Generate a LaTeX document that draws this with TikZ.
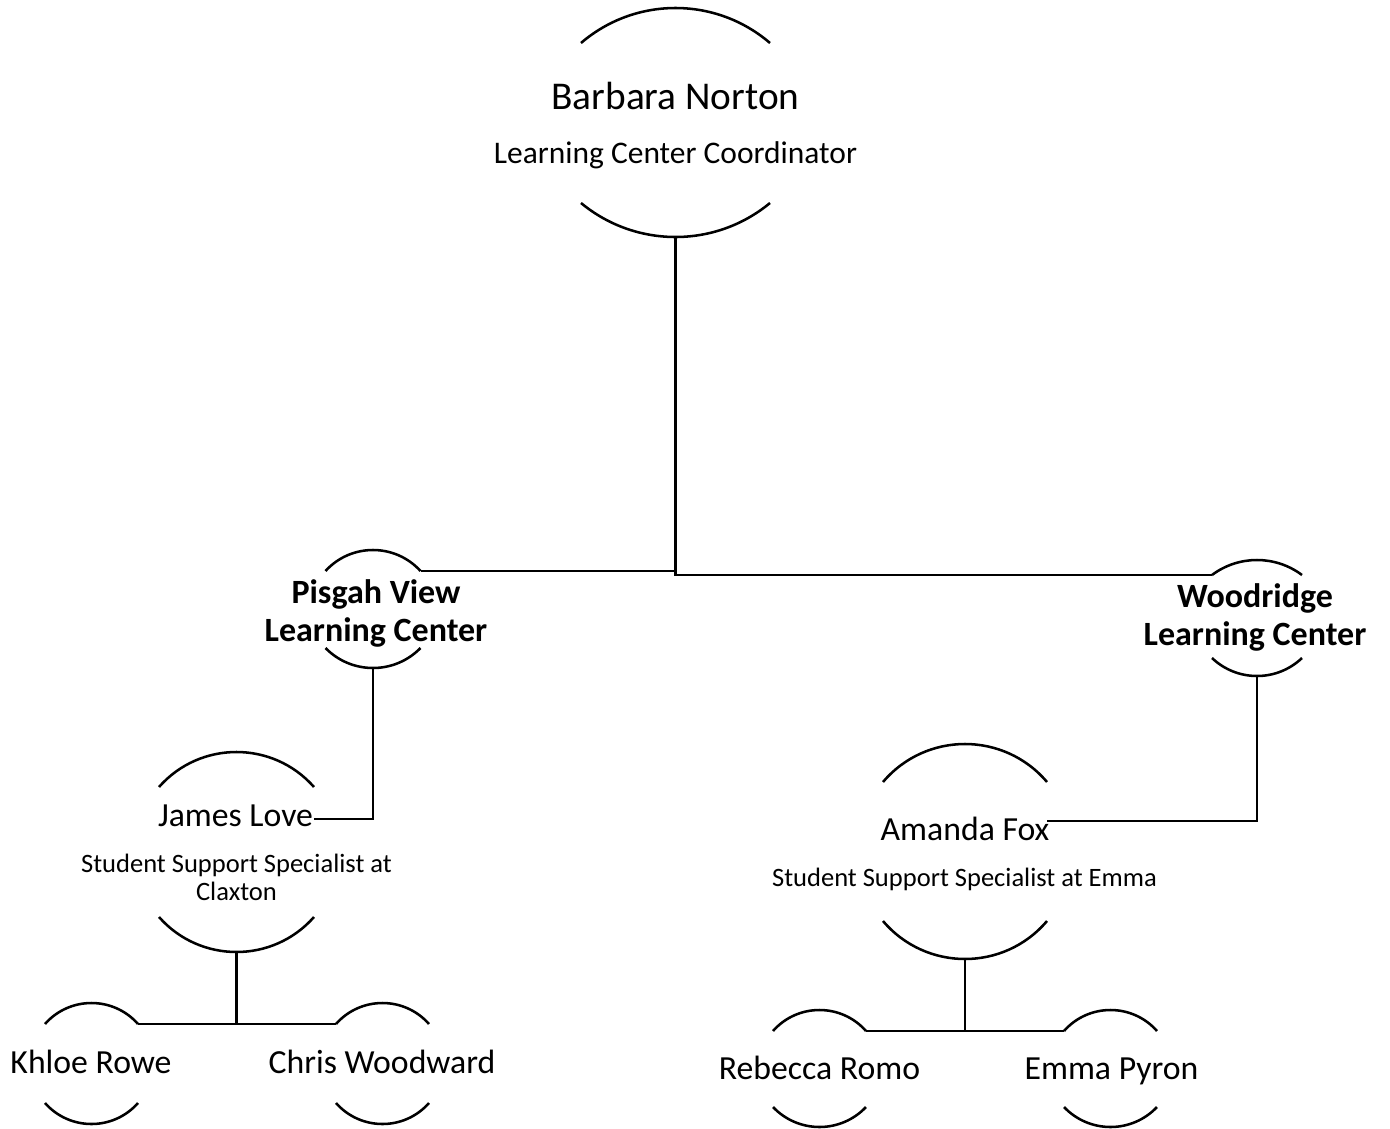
\documentclass[tikz,border=0pt]{standalone}
\usepackage{fontspec}
\setmainfont{Carlito}
\newcommand\orgunit[7]{% #1 name, #2 cx, #3 top end y, #4 apex y, #5 half width, #6 bottom end y, #7 bottom y
  \pgfmathsetmacro\ouDT{(2/3)*((#5)*(#5)-((#3)-(#4))*((#3)-(#4)))/(#5)}
  \pgfmathsetmacro\ouCT{(#3)-4/3*((#3)-(#4))}
  \pgfmathsetmacro\ouDB{(2/3)*((#5)*(#5)-((#6)-(#7))*((#6)-(#7)))/(#5)}
  \pgfmathsetmacro\ouCB{(#6)-4/3*((#6)-(#7))}
  \coordinate (#1-tl) at ({#2-#5},#3);
  \coordinate (#1-tr) at ({#2+#5},#3);
  \coordinate (#1-t) at (#2,#4);
  \coordinate (#1-bl) at ({#2-#5},#6);
  \coordinate (#1-br) at ({#2+#5},#6);
  \coordinate (#1-b) at (#2,#7);
  \draw[arcline] (#1-tl) .. controls ({#2-#5+\ouDT},\ouCT) and ({#2+#5-\ouDT},\ouCT) .. (#1-tr);
  \draw[arcline] (#1-bl) .. controls ({#2-#5+\ouDB},\ouCB) and ({#2+#5-\ouDB},\ouCB) .. (#1-br);
}
\tikzset{
  arcline/.style={line width=1.9pt, black},
  conn/.style={line width=1.9pt, black},
  lblbase/.style={anchor=base, inner sep=0pt, outer sep=0pt},
  topname/.style={lblbase, font=\fontsize{29.5pt}{35pt}\selectfont},
  toprole/.style={lblbase, font=\fontsize{23.6pt}{28pt}\selectfont},
  persname/.style={lblbase, font=\fontsize{25.3pt}{30pt}\selectfont},
  persrole/.style={lblbase, font=\fontsize{19.9pt}{24pt}\selectfont},
  ctrname/.style={lblbase, font=\fontsize{25.5pt}{30pt}\selectfont\bfseries},
}
\begin{document}
\begin{tikzpicture}[x=0.75pt, y=-0.75pt]
\useasboundingbox (0,0) rectangle (1390,1129);
% shapes
\orgunit{bn}{675.5}{43}{8}{94.5}{203}{237}
\orgunit{pv}{373}{571}{550}{47.5}{648}{668}
\orgunit{wr}{1257}{575}{560}{45}{658}{676}
\orgunit{jl}{236.5}{787}{752}{77.5}{917}{952}
\orgunit{af}{965}{782}{744}{82}{921}{959}
\orgunit{kr}{91.5}{1024}{1003}{46.5}{1103}{1124}
\orgunit{cw}{382.5}{1024}{1003}{46.5}{1103}{1124}
\orgunit{rr}{819.5}{1031}{1010}{46.5}{1107}{1127}
\orgunit{ep}{1110.5}{1031}{1010}{46.5}{1107}{1127}
% connection points on sides
\coordinate (jl-r) at (314,819);
\coordinate (af-r) at (1047,821);
% texts
\node[topname] (bnName) at (675.5,109) {Barbara Norton};
\node[toprole] (bnRole) at (675.5,163) {Learning Center Coordinator};
\node[ctrname] (pvA) at (376,603) {Pisgah View};
\node[ctrname] (pvB) at (376,641) {Learning Center};
\node[ctrname] (wrA) at (1255,607) {Woodridge};
\node[ctrname] (wrB) at (1255,645) {Learning Center};
\node[persname] (jlName) at (235.5,826) {James Love};
\node[persrole] (jlRoleA) at (236.5,872) {Student Support Specialist at};
\node[persrole] (jlRoleB) at (236.5,900) {Claxton};
\node[persname] (afName) at (965,840) {Amanda Fox};
\node[persrole] (afRole) at (964.5,886) {Student Support Specialist at Emma};
\node[persname] (krName) at (91,1073) {Khloe Rowe};
\node[persname] (cwName) at (382,1073) {Chris Woodward};
\node[persname] (rrName) at (819.5,1079) {Rebecca Romo};
\node[persname] (epName) at (1111.5,1079) {Emma Pyron};
% connectors
\draw[conn] (bn-b) |- (pv-tr);
\draw[conn] (bn-b) |- (wr-tl);
\draw[conn] (pv-b) |- (jl-r);
\draw[conn] (wr-b) |- (af-r);
\draw[conn] (jl-b) |- (kr-tr);
\draw[conn] (jl-b) |- (cw-tl);
\draw[conn] (af-b) |- (rr-tr);
\draw[conn] (af-b) |- (ep-tl);
\end{tikzpicture}
\end{document}
